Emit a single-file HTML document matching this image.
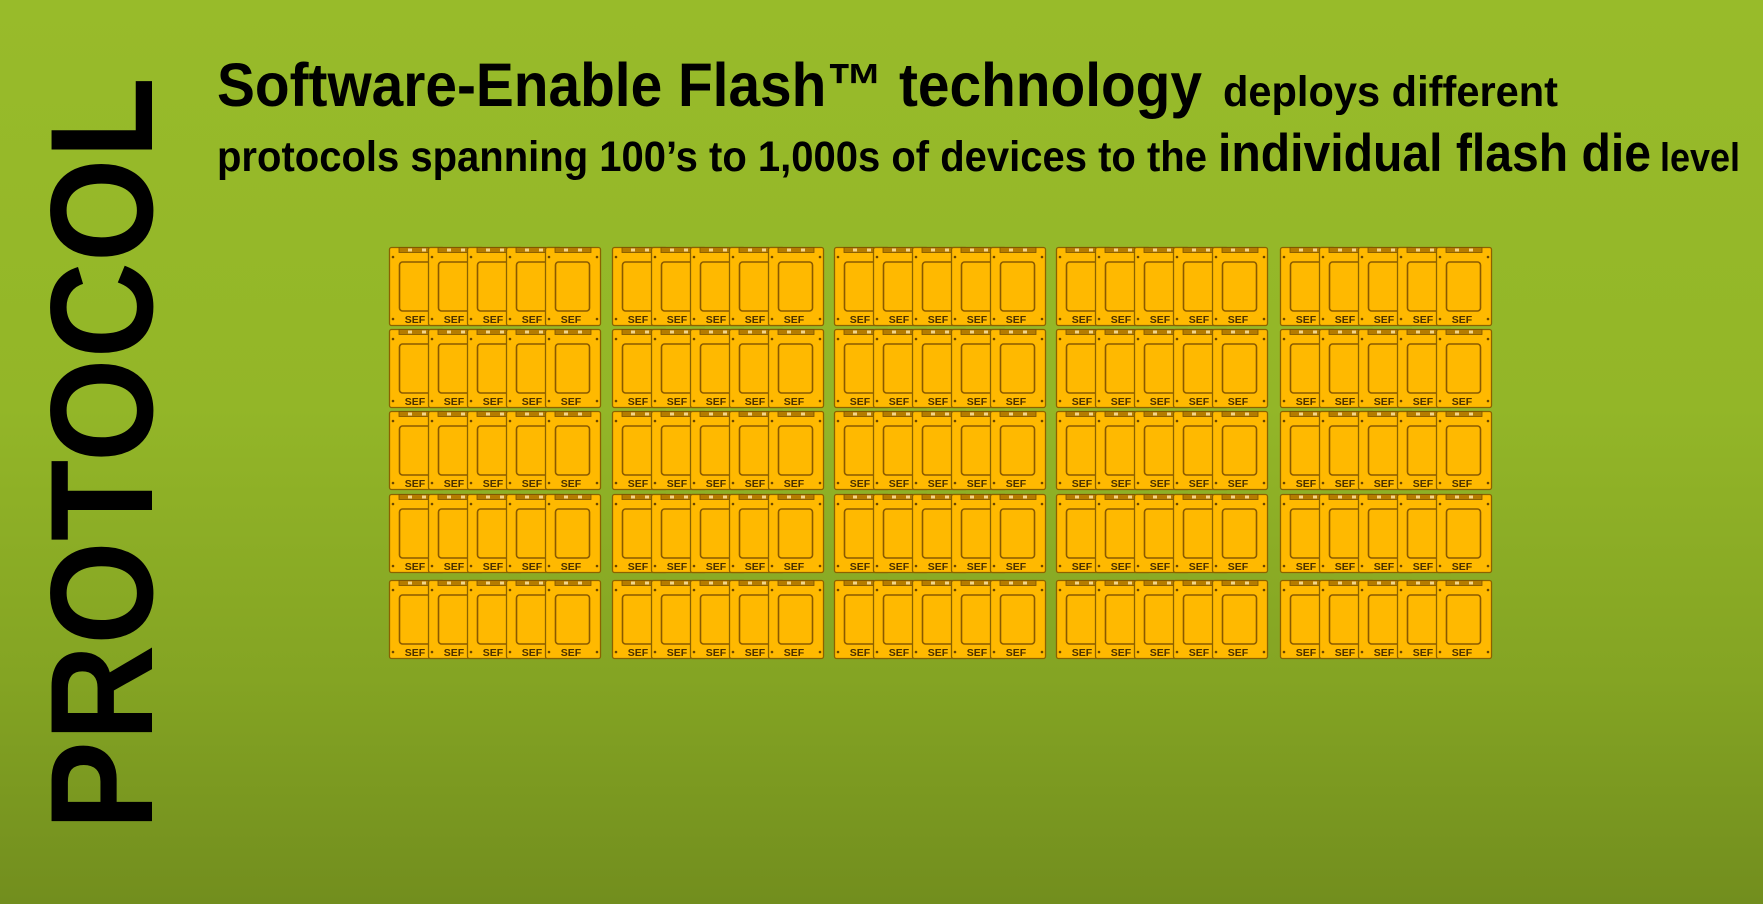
<!DOCTYPE html>
<html><head><meta charset="utf-8"><style>
html,body{margin:0;padding:0;}
body{width:1763px;height:904px;overflow:hidden;background:linear-gradient(to bottom,#98bb2a 0%,#93b628 45%,#84a423 75%,#728e1e 100%);}
svg{position:absolute;left:0;top:0;}
</style></head><body>
<svg id="s" width="1763" height="904" xmlns="http://www.w3.org/2000/svg" font-family="'Liberation Sans', Arial, sans-serif">
<text transform="translate(152,830) rotate(-90)" font-size="146" font-weight="bold" fill="#000" textLength="753" lengthAdjust="spacingAndGlyphs">PROTOCOL</text>
<text x="217" y="106" font-size="61" font-weight="bold" fill="#000" textLength="985" lengthAdjust="spacingAndGlyphs">Software-Enable Flash™ technology</text>
<text x="1223" y="106" font-size="43" font-weight="bold" fill="#000" textLength="335" lengthAdjust="spacingAndGlyphs">deploys different</text>
<text x="217" y="171" font-size="43" font-weight="bold" fill="#000" textLength="990" lengthAdjust="spacingAndGlyphs">protocols spanning 100’s to 1,000s of devices to the</text>
<text x="1218" y="171" font-size="53" font-weight="bold" fill="#000" textLength="433" lengthAdjust="spacingAndGlyphs">individual flash die</text>
<text x="1660" y="171" font-size="40" font-weight="bold" fill="#000" textLength="80" lengthAdjust="spacingAndGlyphs">level</text>
<g id="cards"></g>
</svg>
<script>
var NS="http://www.w3.org/2000/svg";
var g=document.getElementById("cards");
var gx=[389,612,834,1056,1280], ry=[247,329,411,494,580];
function el(t,a,p){var e=document.createElementNS(NS,t);for(var k in a)e.setAttribute(k,a[k]);p.appendChild(e);return e;}
ry.forEach(function(y){gx.forEach(function(x0){for(var i=0;i<5;i++){
 var x=x0+i*39;
 var c=el("g",{transform:"translate("+x+","+y+")"},g);
 el("rect",{x:0.5,y:0.5,width:55,height:78,rx:2,fill:"#ffb900",stroke:"#8a6200","stroke-width":1.3},c);
 el("rect",{x:10,y:0.5,width:36,height:5,fill:"#b57c00",stroke:"#7a5200","stroke-width":0.8},c);
 el("rect",{x:19,y:1.5,width:4,height:3,fill:"#f3d58a"},c);
 el("rect",{x:33,y:1.5,width:4,height:3,fill:"#f3d58a"},c);
 el("rect",{x:10.5,y:15,width:34,height:49,rx:3,fill:"none",stroke:"#8a5a00","stroke-width":1.6},c);
 [[4,10],[52,10],[4,72],[52,72]].forEach(function(p){el("circle",{cx:p[0],cy:p[1],r:1.3,fill:"#6a4600"},c);});
 var t=el("text",{x:26,y:76,"font-size":10.5,"font-weight":"bold",fill:"#4a3000","text-anchor":"middle"},c);
 t.textContent="SEF";
}});});
</script>
</body></html>
